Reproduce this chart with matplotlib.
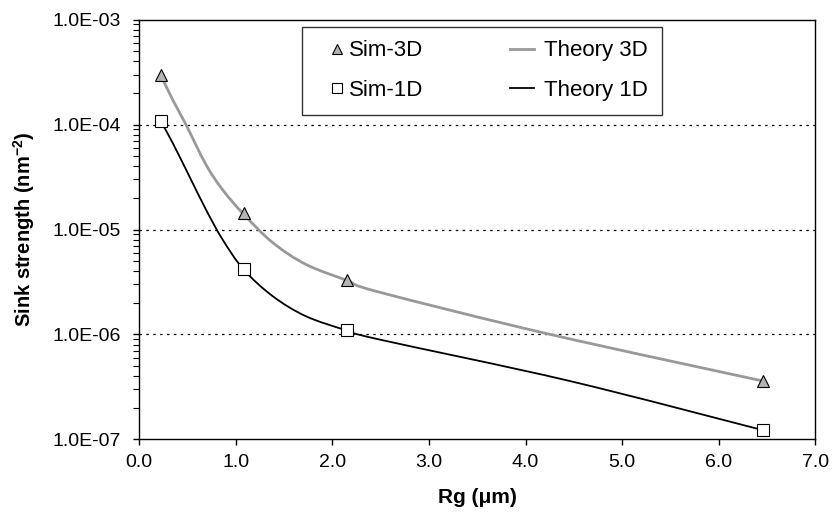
import matplotlib
matplotlib.use("Agg")
import numpy as np
import matplotlib.pyplot as plt
from matplotlib.path import Path
from matplotlib.patches import PathPatch
from matplotlib.lines import Line2D
from matplotlib.legend_handler import HandlerLine2D
from matplotlib.ticker import FixedLocator, LogLocator, FuncFormatter, NullFormatter

plt.rcParams['font.family'] = ['Liberation Sans', 'DejaVu Sans']
plt.rcParams['mathtext.fontset'] = 'custom'
plt.rcParams['mathtext.rm'] = 'Liberation Sans'
plt.rcParams['mathtext.bf'] = 'Liberation Sans:bold'

# Simulation points
sim_x = [0.22, 1.08, 2.15, 6.46]
sim3d_y = [2.99e-4, 1.44e-5, 3.27e-6, 3.59e-7]
sim1d_y = [1.09e-4, 4.16e-6, 1.09e-6, 1.22e-7]

# Theory curves
th3d_x = [0.22, 0.345, 0.483, 0.69, 0.862, 1.08, 1.38, 1.725, 2.15, 2.484, 4.255, 6.46]
th3d_y = [2.99e-4, 1.73e-4, 1.0e-4, 4.16e-5, 2.40e-5, 1.40e-5, 7.52e-6, 4.65e-6, 3.27e-6, 2.53e-6, 1.0e-6, 3.59e-7]
th1d_x = [0.22, 0.345, 0.518, 0.69, 0.862, 1.08, 1.38, 1.725, 2.15, 2.484, 4.46, 6.46]
th1d_y = [1.09e-4, 6.70e-5, 3.22e-5, 1.55e-5, 8.04e-6, 4.16e-6, 2.32e-6, 1.49e-6, 1.09e-6, 8.95e-7, 3.59e-7, 1.22e-7]

x_ticks = [0, 1, 2, 3, 4, 5, 6, 7]
y_ticks = [1e-7, 1e-6, 1e-5, 1e-4, 1e-3]


def smooth_path(xs, ys):
    """Smoothed line (like a spreadsheet 'smoothed line') through the given points,
    built as cubic Bezier segments in (x, log y) space."""
    p = np.column_stack([np.asarray(xs, float), np.log10(np.asarray(ys, float))])
    n = len(p)
    verts = [p[0]]
    codes = [Path.MOVETO]
    for i in range(n - 1):
        p0 = p[i - 1] if i > 0 else p[i]
        p1, p2 = p[i], p[i + 1]
        p3 = p[i + 2] if i + 2 < n else p[i + 1]
        c1 = p1 + (p2 - p0) / 6.0
        c2 = p2 - (p3 - p1) / 6.0
        verts += [c1, c2, p2]
        codes += [Path.CURVE4] * 3
    v = np.array(verts)
    v[:, 1] = 10 ** v[:, 1]
    return Path(v, codes)


fig = plt.figure(figsize=(8.33, 5.16), dpi=100)
ax = fig.add_axes([139.3/833, 1-439.3/516, (815.3-139.3)/833, (439.3-19.7)/516])

ax.set_yscale('log')
ax.set_xlim(0, 7)
ax.set_ylim(1e-7, 1e-3)

for yv in y_ticks[1:-1]:
    ax.axhline(yv, color='black', lw=0.9, ls=(0, (2, 3.5)), zorder=1)

ax.add_patch(PathPatch(smooth_path(th3d_x, th3d_y), fc='none', ec='#999999', lw=2.0, zorder=2))
ax.add_patch(PathPatch(smooth_path(th1d_x, th1d_y), fc='none', ec='black', lw=1.3, zorder=3))
ax.plot(sim_x, sim3d_y, ls='none', marker='^', ms=9, mfc='#b3b3b3', mec='black', mew=0.8,
        zorder=4)
ax.plot(sim_x, sim1d_y, ls='none', marker='s', ms=9, mfc='white', mec='black', mew=0.8,
        zorder=4)

ax.xaxis.set_major_locator(FixedLocator(x_ticks))
ax.xaxis.set_major_formatter(FuncFormatter(lambda v, p: f"{v:.1f}"))
ax.yaxis.set_major_locator(FixedLocator(y_ticks))
ax.yaxis.set_minor_locator(LogLocator(base=10, subs=range(2, 10)))
ax.yaxis.set_minor_formatter(NullFormatter())
ax.yaxis.set_major_formatter(FuncFormatter(lambda v, p: f"{v:.1E}"))

ax.tick_params(axis='both', which='major', direction='out', length=4.5, width=1.0,
               labelsize=14)
ax.tick_params(axis='y', which='major', pad=9)
ax.tick_params(axis='x', which='major', pad=6)
ax.tick_params(axis='y', which='minor', direction='out', length=4.5, width=0.8)
ax.tick_params(axis='x', which='minor', length=0)

for s in ax.spines.values():
    s.set_linewidth(1.0)
    s.set_color('black')

ax.set_xlabel('Rg (\u03bcm)', fontsize=15, fontweight='bold', labelpad=12)
ax.set_ylabel(r'Sink strength (nm$^{\mathbf{-2}}$)', fontsize=14.5, fontweight='bold', labelpad=11)

# Legend
h_s3 = Line2D([], [], ls='none', marker='^', ms=9, mfc='#b3b3b3', mec='black', mew=0.8)
h_s1 = Line2D([], [], ls='none', marker='s', ms=9, mfc='white', mec='black', mew=0.8)
h_t3 = Line2D([], [], color='#999999', lw=2.0)
h_t1 = Line2D([], [], color='black', lw=1.3)
mk_handler = HandlerLine2D(numpoints=1, xpad=0.9)
leg = ax.legend([h_s3, h_s1, h_t3, h_t1], ['Sim-3D', 'Sim-1D', 'Theory 3D', 'Theory 1D'],
                ncol=2, loc='upper left', bbox_to_anchor=(0.2407, 0.9826),
                handler_map={h_s3: mk_handler, h_s1: mk_handler},
                fontsize=16, frameon=True, fancybox=False, edgecolor='black',
                borderpad=0.6, handlelength=1.08, handletextpad=0.45,
                columnspacing=3.9, labelspacing=0.85, markerscale=0.75,
                borderaxespad=0)
leg.get_frame().set_linewidth(1.0)

fig.savefig('out.png', dpi=100)
